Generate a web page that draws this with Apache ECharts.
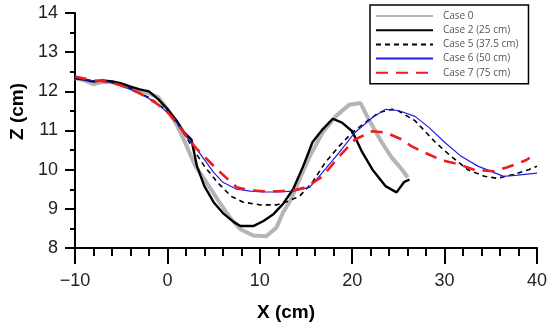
<!DOCTYPE html>
<html>
<head>
<meta charset="utf-8">
<script src="https://cdn.jsdelivr.net/npm/echarts@6/dist/echarts.min.js"></script>
<style>html,body{margin:0;padding:0;background:#fff;}#c{width:550px;height:327px;}</style>
</head>
<body>
<div id="c"></div>
<script>
// ---- data ----
const seriesNames = ['Case 0', 'Case 2 (25 cm)', 'Case 5 (37.5 cm)', 'Case 6 (50 cm)', 'Case 7 (75 cm)'];

const case0X = [-10,-9,-8,-7,-6,-5,-4,-3,-2,-1,0,1,2,3,4,5.4,6.9,7.9,9.3,10.7,11.8,12.5,13.4,14.3,15.4,16.8,18.2,19.7,20.9,21.8,23.2,24.3,25.4,26];
const case0Z = [12.33,12.28,12.18,12.24,12.24,12.18,12.1,12.02,11.95,11.85,11.55,11.15,10.65,10.1,9.76,9.25,8.74,8.48,8.32,8.3,8.52,8.9,9.25,9.76,10.34,10.95,11.36,11.66,11.7,11.28,10.7,10.3,10.0,9.8];

const case2X = [-10,-9,-8,-7,-6,-5,-4,-3,-2,-1,0,1,1.8,2.6,3.2,4,5,6.1,7.2,7.9,9.3,10.4,11.5,12.5,13.6,14.7,15.7,16.8,17.9,18.9,20,21.1,22.2,23.6,24.8,25.6,26.2];
const case2Z = [12.33,12.3,12.25,12.28,12.25,12.2,12.12,12.05,12.0,11.8,11.55,11.25,10.95,10.77,10.09,9.58,9.17,8.87,8.66,8.56,8.56,8.69,8.87,9.12,9.5,10.09,10.7,11.03,11.3,11.2,10.98,10.44,10.0,9.58,9.42,9.68,9.75];

const case5X = [-10,-9,-8,-7,-6,-5,-4,-3,-2,-1,0,1,2,3,4,5.4,6.9,8.2,10.1,11.8,12.8,14.3,15.7,17.1,18.6,20,21.4,22.9,24.3,25,26.8,29,30.7,32.5,34.3,35.7,37.5,39.1,40];
const case5Z = [12.34,12.3,12.27,12.26,12.22,12.15,12.07,11.96,11.84,11.68,11.48,11.2,10.85,10.45,10.09,9.68,9.32,9.17,9.1,9.1,9.17,9.32,9.68,10.19,10.6,10.95,11.2,11.46,11.54,11.5,11.25,10.7,10.34,10.0,9.83,9.78,9.88,10.0,10.09];

const case6X = [-10,-9,-8,-7,-6,-5,-4,-3,-2,-1,0,1,2,3.2,5,6,7.5,9,10.4,12,13.6,15.4,16.8,18.6,20.3,22.2,23.6,25,26.8,28.3,30,31.8,33.6,35.3,36.4,37.9,40];
const case6Z = [12.35,12.3,12.27,12.26,12.22,12.14,12.05,11.94,11.82,11.66,11.46,11.2,10.85,10.52,9.93,9.68,9.5,9.45,9.43,9.43,9.45,9.55,9.93,10.44,10.95,11.33,11.54,11.51,11.36,11.08,10.7,10.34,10.09,9.93,9.83,9.86,9.91];

const case7X = [-10,-9,-8,-7,-6,-5,-4,-3,-2,-1,0,1,2,3.1,5.4,7.5,9,10.4,12,13.6,15,16.8,18.6,20.3,22.2,23.6,25.4,26.4,27.8,29.7,31.5,33.2,35.3,36.8,38.8,39.2];
const case7Z = [12.38,12.33,12.28,12.26,12.22,12.15,12.06,11.95,11.82,11.66,11.47,11.2,10.87,10.55,10.0,9.55,9.47,9.45,9.45,9.47,9.55,9.83,10.34,10.77,10.98,10.95,10.77,10.6,10.44,10.24,10.14,10.0,9.96,10.06,10.24,10.3];

const xTicks = [-10, 0, 10, 20, 30, 40];
const yTicks = [8, 9, 10, 11, 12, 13, 14];

// ---- chart ----
function zip(xs, zs) { return xs.map((x, i) => [x, zs[i]]); }

const styles = [
  { color: '#b5b5b5', width: 4, type: 'solid' },
  { color: '#000000', width: 2.4, type: 'solid' },
  { color: '#000000', width: 1.6, type: [5, 4] },
  { color: '#1f1fe6', width: 1.2, type: 'solid' },
  { color: '#ee1c1c', width: 2.6, type: [12, 8] }
];
const datasets = [zip(case0X, case0Z), zip(case2X, case2Z), zip(case5X, case5Z), zip(case6X, case6Z), zip(case7X, case7Z)];

const chart = echarts.init(document.getElementById('c'), null, { renderer: 'canvas' });
chart.setOption({
  animation: false,
  backgroundColor: '#fff',
  grid: { left: 70, right: 13, top: 13, bottom: 78 },
  legend: {
    orient: 'vertical',
    left: 370, top: 5,
    padding: [6, 10, 6, 5],
    itemWidth: 57, itemHeight: 8, itemGap: 4.2,
    borderColor: '#000', borderWidth: 1.5, backgroundColor: '#fff',
    itemStyle: { opacity: 0 },
    textStyle: { fontFamily: 'Open Sans', fontSize: 10, color: '#555', padding: [0, 0, 0, 5] },
    data: seriesNames
  },
  xAxis: {
    type: 'value', min: -10, max: 40, interval: 10,
    name: 'X (cm)', nameLocation: 'middle', nameGap: 55,
    nameTextStyle: { fontFamily: 'Liberation Sans', fontWeight: 'bold', fontSize: 19, color: '#000', padding: [0, 40, 0, 0] },
    axisLine: { onZero: false, lineStyle: { color: '#000', width: 2 } },
    axisTick: { show: true, length: 16, lineStyle: { color: '#000', width: 2 } },
    minorTick: { show: true, splitNumber: 5, length: 8, lineStyle: { color: '#000', width: 2 } },
    splitLine: { show: false },
    axisLabel: {
      margin: 24, fontFamily: 'Liberation Sans', fontSize: 18, color: '#222',
      formatter: v => xTicks.includes(v) ? String(v).replace('-', '\u2212') : ''
    }
  },
  yAxis: {
    type: 'value', min: 8, max: 14, interval: 1,
    name: 'Z (cm)', nameLocation: 'middle', nameGap: 48,
    nameTextStyle: { fontFamily: 'Liberation Sans', fontWeight: 'bold', fontSize: 19, color: '#000', padding: [0, 0, 0, 38] },
    axisLine: { onZero: false, lineStyle: { color: '#000', width: 2 } },
    axisTick: { show: true, length: 10, lineStyle: { color: '#000', width: 2 } },
    minorTick: { show: true, splitNumber: 2, length: 5, lineStyle: { color: '#000', width: 2 } },
    splitLine: { show: false },
    axisLabel: {
      margin: 17, fontFamily: 'Liberation Sans', fontSize: 18, color: '#222',
      formatter: v => yTicks.includes(v) ? String(v) : ''
    }
  },
  series: seriesNames.map((n, i) => ({
    name: n, type: 'line', data: datasets[i], symbol: 'none', smooth: false,
    color: styles[i].color,
    lineStyle: { color: styles[i].color, width: styles[i].width, type: styles[i].type },
    z: i + 2
  }))
});
</script>
</body>
</html>
